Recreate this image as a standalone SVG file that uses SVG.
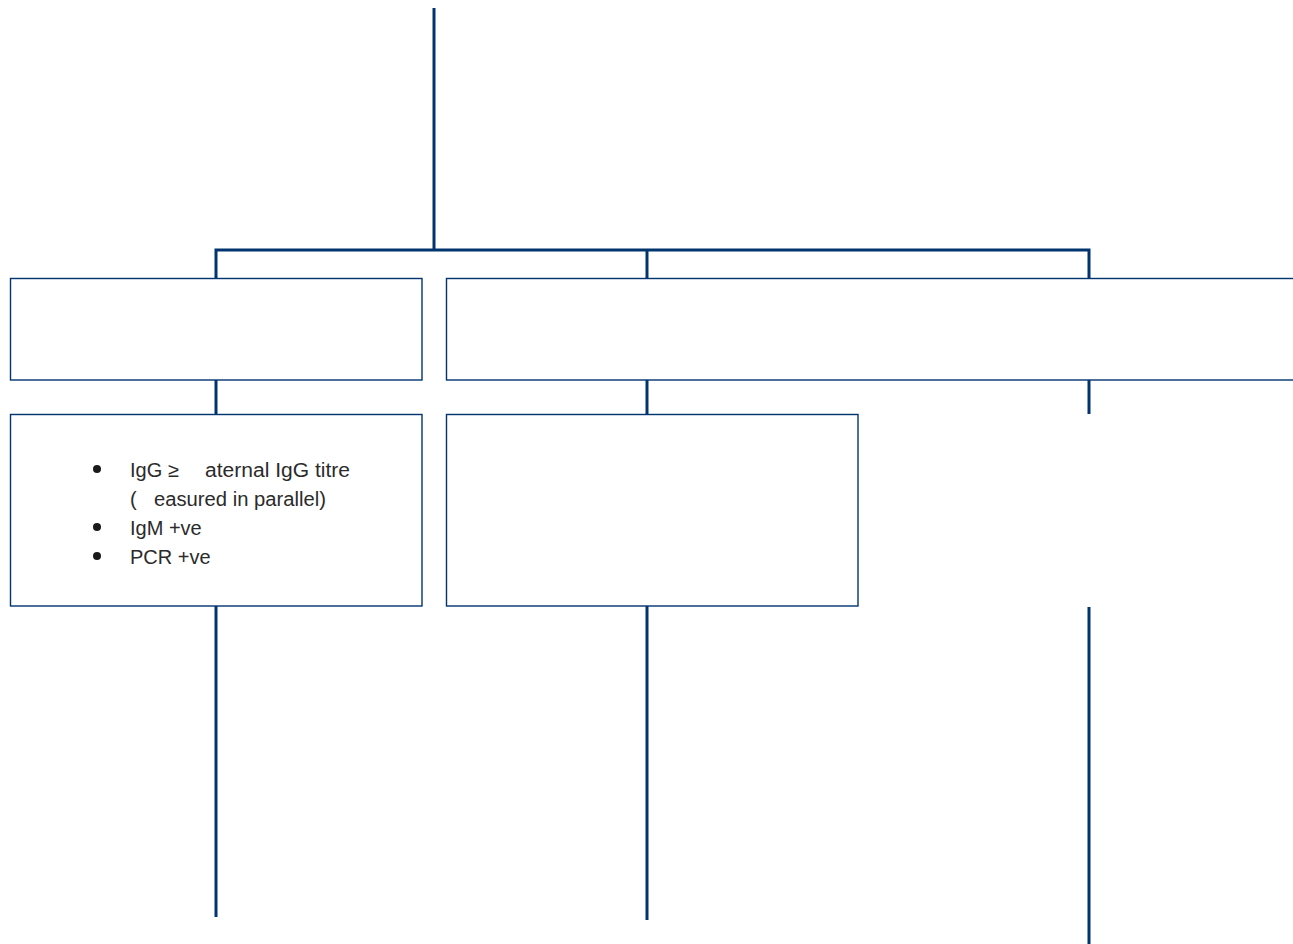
<svg xmlns="http://www.w3.org/2000/svg" width="1293" height="944" viewBox="0 0 1293 944">
  <style>
    .conn { fill: none; stroke: #00346f; stroke-width: 3; }
    .box { fill: #ffffff; stroke: #00346f; stroke-width: 1.4; }
    .txt { font-family: "Liberation Sans", Arial, sans-serif; font-size: 20px; fill: #2b2b2b; }
    .dot { fill: #1a1a1a; }
  </style>
  <rect width="1293" height="944" fill="#ffffff"/>

  <!-- connectors -->
  <g id="connectors">
    <path class="conn" d="M434 8 V250"/>
    <path class="conn" d="M216 278 V250 H1089 V278"/>
    <path class="conn" d="M647 250 V278"/>
    <path class="conn" d="M216 380 V414"/>
    <path class="conn" d="M647 380 V414"/>
    <path class="conn" d="M1089 380 V414"/>
    <path class="conn" d="M216 606 V917"/>
    <path class="conn" d="M647 606 V920"/>
    <path class="conn" d="M1089 607 V944"/>
  </g>

  <!-- upper row -->
  <g id="node-top-left">
    <rect class="box" x="10.5" y="278.5" width="411.5" height="101.5"/>
  </g>
  <g id="node-top-right">
    <rect class="box" x="446.5" y="278.5" width="860" height="101.5"/>
  </g>

  <!-- lower row -->
  <g id="node-bottom-left">
    <rect class="box" x="10.5" y="414.5" width="411.5" height="191.5"/>
    <circle class="dot" cx="97" cy="469" r="4"/>
    <circle class="dot" cx="97" cy="527" r="4"/>
    <circle class="dot" cx="97" cy="556" r="4"/>
    <text class="txt" x="130" y="477">IgG ≥</text>
    <text class="txt" x="205" y="477" textLength="145" lengthAdjust="spacingAndGlyphs">aternal IgG titre</text>
    <text class="txt" x="130" y="506">(</text>
    <text class="txt" x="154" y="506" textLength="172" lengthAdjust="spacingAndGlyphs">easured in parallel)</text>
    <text class="txt" x="130" y="535">IgM +ve</text>
    <text class="txt" x="130" y="564">PCR +ve</text>
  </g>
  <g id="node-bottom-middle">
    <rect class="box" x="446.5" y="414.5" width="411.5" height="191.5"/>
  </g>
</svg>
